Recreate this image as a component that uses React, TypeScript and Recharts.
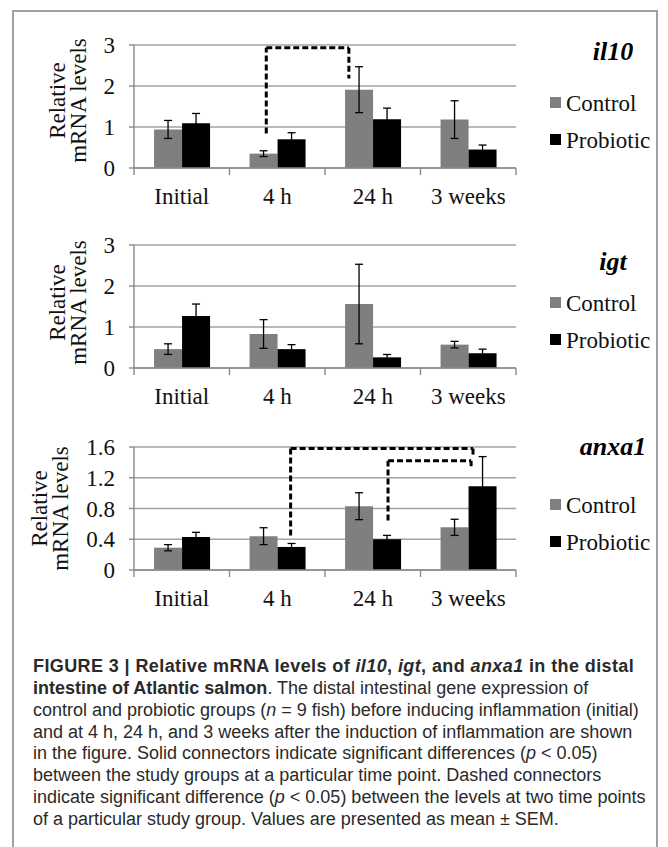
import React from 'react';
import { Bar, BarChart, CartesianGrid, ErrorBar, Legend, ReferenceLine, XAxis, YAxis } from 'recharts';

const categories = ['Initial', '4 h', '24 h', '3 weeks'];

// il10
const il10Control = [0.94, 0.35, 1.91, 1.18];
const il10ControlErr = [0.22, 0.07, 0.56, 0.46];
const il10Probiotic = [1.09, 0.7, 1.19, 0.45];
const il10ProbioticErr = [0.24, 0.16, 0.27, 0.11];

// igt
const igtControl = [0.46, 0.83, 1.56, 0.57];
const igtControlErr = [0.13, 0.35, 0.97, 0.08];
const igtProbiotic = [1.27, 0.46, 0.26, 0.36];
const igtProbioticErr = [0.29, 0.11, 0.07, 0.1];

// anxa1
const anxa1Control = [0.29, 0.44, 0.83, 0.555];
const anxa1ControlErr = [0.04, 0.11, 0.175, 0.105];
const anxa1Probiotic = [0.43, 0.3, 0.4, 1.09];
const anxa1ProbioticErr = [0.06, 0.045, 0.05, 0.385];

const ticks3 = [0, 1, 2, 3];
const ticks16 = [0, 0.4, 0.8, 1.2, 1.6];

// dashed connectors: start / end category, shift from the category centre (in band widths), y levels
type Connector = { from: string; fromDx: number; y1: number; top: number; to: string; toDx: number; y2: number };
const il10Connectors: Connector[] = [{ from: '4 h', fromDx: -0.115, y1: 0.84, top: 2.93, to: '24 h', toDx: -0.25, y2: 2.18 }];
const igtConnectors: Connector[] = [];
const anxa1Connectors: Connector[] = [
	{ from: '4 h', fromDx: 0.14, y1: 0.45, top: 1.58, to: '3 weeks', toDx: 0.05, y2: 1.48 },
	{ from: '24 h', fromDx: 0.16, y1: 0.645, top: 1.42, to: '3 weeks', toDx: 0.03, y2: 1.35 },
];

const SERIF = '"Liberation Serif", "Times New Roman", serif';
const SANS = '"Liberation Sans", Arial, sans-serif';
const GRAY = '#7f7f7f';
const GRID = '#a3a3a3';
const AXIS = '#8a8a8a';

const CHART_W = 668;
const CHART_H = 215;
const MARGIN = { top: 45, right: 152, bottom: 2, left: 94 };
const Y_W = 40;
const PLOT_W = CHART_W - MARGIN.left - MARGIN.right - Y_W;
const BAND = PLOT_W / categories.length;

const makeRows = (c: number[], ce: number[], p: number[], pe: number[]) =>
	categories.map((cat, i) => ({ cat, control: c[i], controlErr: ce[i], probiotic: p[i], probioticErr: pe[i] }));

// category label plus the tick marks at the category boundaries
const CatTick = (props: any) => {
	const { x, y, index, payload } = props;
	const last = index === categories.length - 1;
	return (
		<g>
			<line x1={x - BAND / 2} y1={y} x2={x - BAND / 2} y2={y + 7} stroke={AXIS} strokeWidth={1.4} />
			{last && <line x1={x + BAND / 2} y1={y} x2={x + BAND / 2} y2={y + 7} stroke={AXIS} strokeWidth={1.4} />}
			<text x={x} y={y + 36} textAnchor='middle' fontFamily={SERIF} fontSize={23} fill='#111'>
				{payload.value}
			</text>
		</g>
	);
};

const PanelLegend = ({ title, titleDy, payload }: { title: string; titleDy: number; payload?: any[] }) => {
	const items =
		payload && payload.length
			? payload
			: [
					{ value: 'Control', color: GRAY },
					{ value: 'Probiotic', color: '#000' },
			  ];
	return (
		<svg width={128} height={140} style={{ display: 'block', overflow: 'visible' }}>
			<text x={73} y={30 + titleDy} textAnchor='middle' fontFamily={SERIF} fontSize={26} fontWeight='bold' fontStyle='italic' fill='#000'>
				{title}
			</text>
			{items.map((it: any, i: number) => {
				const base = 96 + i * 37;
				return (
					<g key={it.value}>
						<rect x={10} y={base - 14} width={11} height={11} fill={it.color} />
						<text x={26} y={base} fontFamily={SERIF} fontSize={23} fill='#111'>
							{it.value}
						</text>
					</g>
				);
			})}
		</svg>
	);
};

const dashed = (dx1: number, dx2: number) => (p: any) =>
	<line x1={p.x1 + dx1 * BAND} y1={p.y1} x2={p.x2 + dx2 * BAND} y2={p.y2} stroke='#000' strokeWidth={3} strokeDasharray='6 3' />;

const Panel = ({
	top,
	title,
	titleDy,
	rows,
	yMax,
	yTicks,
	connectors,
	relX,
	mrnaX,
	labelDy,
}: {
	top: number;
	title: string;
	titleDy: number;
	rows: any[];
	yMax: number;
	yTicks: number[];
	connectors: Connector[];
	relX: number;
	mrnaX: number;
	labelDy: number;
}) => {
	const yLabel = (props: any) => {
		const vb = props.viewBox || {};
		const cy = (vb.y ?? MARGIN.top) + (vb.height ?? 123) / 2 + labelDy;
		return (
			<g>
				<text x={relX} y={cy} transform={`rotate(-90, ${relX}, ${cy})`} textAnchor='middle' dominantBaseline='central' fontFamily={SERIF} fontSize={23} fill='#111'>
					Relative
				</text>
				<text x={mrnaX} y={cy} transform={`rotate(-90, ${mrnaX}, ${cy})`} textAnchor='middle' dominantBaseline='central' fontFamily={SERIF} fontSize={23} fill='#111'>
					mRNA levels
				</text>
			</g>
		);
	};
	return (
		<div style={{ position: 'absolute', left: 0, top }}>
			<BarChart width={CHART_W} height={CHART_H} data={rows} margin={MARGIN} barCategoryGap='21%' barGap={0}>
				<CartesianGrid vertical={false} stroke={GRID} strokeWidth={1.4} />
				<XAxis
					dataKey='cat'
					interval={0}
					height={45}
					tickSize={0}
					tickMargin={0}
					tickLine={false}
					axisLine={{ stroke: AXIS, strokeWidth: 1.4 }}
					tick={CatTick}
				/>
				<YAxis
					domain={[0, yMax]}
					ticks={yTicks}
					interval={0}
					width={Y_W}
					tickSize={5}
					tickMargin={14}
					axisLine={{ stroke: AXIS, strokeWidth: 1.4 }}
					tickLine={{ stroke: AXIS, strokeWidth: 1.4 }}
					tick={{ fill: '#111', fontSize: 23, fontFamily: SERIF }}
					tickFormatter={(v: number) => (yMax < 2 && v !== 0 ? v.toFixed(1) : String(v))}
					label={yLabel}
				/>
				<Bar dataKey='control' name='Control' fill={GRAY} isAnimationActive={false}>
					<ErrorBar dataKey='controlErr' direction='y' width={4} stroke='#000' strokeWidth={1.3} />
				</Bar>
				<Bar dataKey='probiotic' name='Probiotic' fill='#000' isAnimationActive={false}>
					<ErrorBar dataKey='probioticErr' direction='y' width={4} stroke='#000' strokeWidth={1.3} />
				</Bar>
				{connectors.flatMap((c, i) => [
					<ReferenceLine key={`a${i}`} segment={[{ x: c.from, y: c.y1 }, { x: c.from, y: c.top }]} shape={dashed(c.fromDx, c.fromDx)} />,
					<ReferenceLine key={`b${i}`} segment={[{ x: c.from, y: c.top }, { x: c.to, y: c.top }]} shape={dashed(c.fromDx, c.toDx)} />,
					<ReferenceLine key={`c${i}`} segment={[{ x: c.to, y: c.top }, { x: c.to, y: c.y2 }]} shape={dashed(c.toDx, c.toDx)} />,
				])}
				<Legend
					layout='vertical'
					align='center'
					verticalAlign='middle'
					width={128}
					height={140}
					wrapperStyle={{ left: 540, top: 15, width: 128, height: 140 }}
					content={(p: any) => <PanelLegend title={title} titleDy={titleDy} payload={p.payload} />}
				/>
			</BarChart>
		</div>
	);
};

const captionLine: React.CSSProperties = { whiteSpace: 'nowrap', height: 21.86, lineHeight: '21.86px' };

export default function App() {
	return (
		<div style={{ position: 'absolute', left: 0, top: 0, width: 668, height: 847, overflow: 'hidden', background: '#fff' }}>
			<div
				style={{
					position: 'absolute',
					left: 12,
					top: 10,
					width: 646,
					height: 860,
					border: '2px solid #a0a0a0',
					boxSizing: 'border-box',
				}}
			/>
			<Panel top={0} title='il10' titleDy={15} rows={makeRows(il10Control, il10ControlErr, il10Probiotic, il10ProbioticErr)} yMax={3} yTicks={ticks3} connectors={il10Connectors} relX={57} mrnaX={78} labelDy={-6} />
			<Panel top={200} title='igt' titleDy={25} rows={makeRows(igtControl, igtControlErr, igtProbiotic, igtProbioticErr)} yMax={3} yTicks={ticks3} connectors={igtConnectors} relX={57} mrnaX={78} labelDy={-4} />
			<Panel top={402} title='anxa1' titleDy={8} rows={makeRows(anxa1Control, anxa1ControlErr, anxa1Probiotic, anxa1ProbioticErr)} yMax={1.6} yTicks={ticks16} connectors={anxa1Connectors} relX={39} mrnaX={60} labelDy={0} />
			<div style={{ position: 'absolute', left: 33, top: 656, fontFamily: SANS, fontSize: 18, color: '#2a2a2a' }}>
				<div style={{ ...captionLine, fontWeight: 'bold', letterSpacing: 0.4 }}>
					FIGURE 3 | Relative mRNA levels of <i>il10</i>, <i>igt</i>, and <i>anxa1</i> in the distal
				</div>
				<div style={captionLine}>
					<b>intestine of Atlantic salmon</b>. The distal intestinal gene expression of
				</div>
				<div style={captionLine}>
					control and probiotic groups (<i>n</i> = 9 fish) before inducing inflammation (initial)
				</div>
				<div style={captionLine}>and at 4 h, 24 h, and 3 weeks after the induction of inflammation are shown</div>
				<div style={captionLine}>
					in the figure. Solid connectors indicate significant differences (<i>p</i> &lt; 0.05)
				</div>
				<div style={captionLine}>between the study groups at a particular time point. Dashed connectors</div>
				<div style={captionLine}>
					indicate significant difference (<i>p</i> &lt; 0.05) between the levels at two time points
				</div>
				<div style={captionLine}>of a particular study group. Values are presented as mean ± SEM.</div>
			</div>
		</div>
	);
}
